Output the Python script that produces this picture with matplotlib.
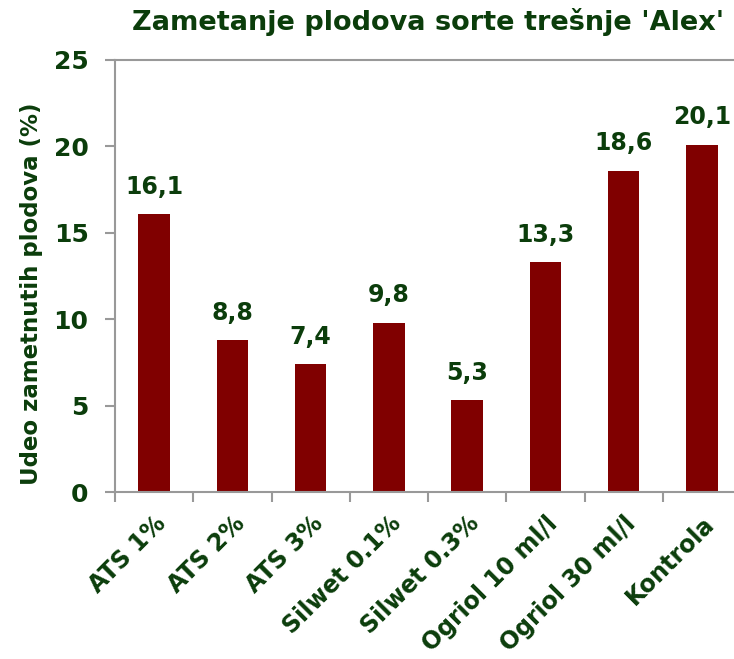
import numpy as np
import matplotlib.pyplot as plt

# data
kategorije = ['ATS 1%', 'ATS 2%', 'ATS 3%', 'Silwet 0.1%', 'Silwet 0.3%',
              'Ogriol 10 ml/l', 'Ogriol 30 ml/l', 'Kontrola']
zametanje = [16.1, 8.8, 7.4, 9.8, 5.3, 13.3, 18.6, 20.1]
y_ticks = [0, 5, 10, 15, 20, 25]

zelena = '#0b3d0b'
bordo = '#800000'
siva = '#999999'

plt.rcParams['font.family'] = ['DejaVu Sans']
plt.rcParams['font.weight'] = 'bold'

fig = plt.figure(figsize=(7.34, 6.59), dpi=100)
ax = fig.add_axes([115 / 734, 1 - 492 / 659, (741 - 115) / 734, (492 - 60) / 659])

x = np.arange(len(kategorije))
ax.bar(x, zametanje, width=0.4, color=bordo, zorder=2)

# value labels above bars
for xi, v in zip(x, zametanje):
    ax.annotate('{:.1f}'.format(v).replace('.', ','), (xi, v),
                xytext=(0, 11), textcoords='offset points',
                ha='center', va='bottom', fontsize=17, fontweight='bold', color=zelena)

ax.set_xlim(-0.5, len(kategorije) - 0.5)
ax.set_ylim(0, 25)
ax.set_yticks(y_ticks)
ax.set_xticks(np.arange(len(kategorije) + 1) - 0.5, minor=False)
ax.set_xticklabels([])
ax.set_xticks(x, minor=True)
ax.set_xticklabels(kategorije, minor=True, rotation=45, ha='right',
                   rotation_mode='anchor', fontsize=17, fontweight='bold', color=zelena)
ax.tick_params(axis='x', which='minor', length=0, pad=14)
ax.tick_params(axis='x', which='major', length=7, width=1.5, color=siva, direction='out')
ax.tick_params(axis='y', length=7, width=1.5, color=siva, labelsize=18,
               labelcolor=zelena, pad=12)
for lab in ax.get_yticklabels():
    lab.set_fontweight('bold')

for side in ['left', 'bottom', 'top']:
    ax.spines[side].set_color(siva)
    ax.spines[side].set_linewidth(1.5)
ax.spines['right'].set_visible(False)

ax.set_ylabel('Udeo zametnutih plodova (%)', fontsize=16.5, fontweight='bold',
              color=zelena)
ax.yaxis.set_label_coords(-0.115, 0.46)
fig.text(428 / 734, 1 - 22 / 659, "Zametanje plodova sorte trešnje 'Alex'",
         ha='center', va='center', fontsize=19.5, fontweight='bold', color=zelena)

fig.savefig('out.png', dpi=100)
